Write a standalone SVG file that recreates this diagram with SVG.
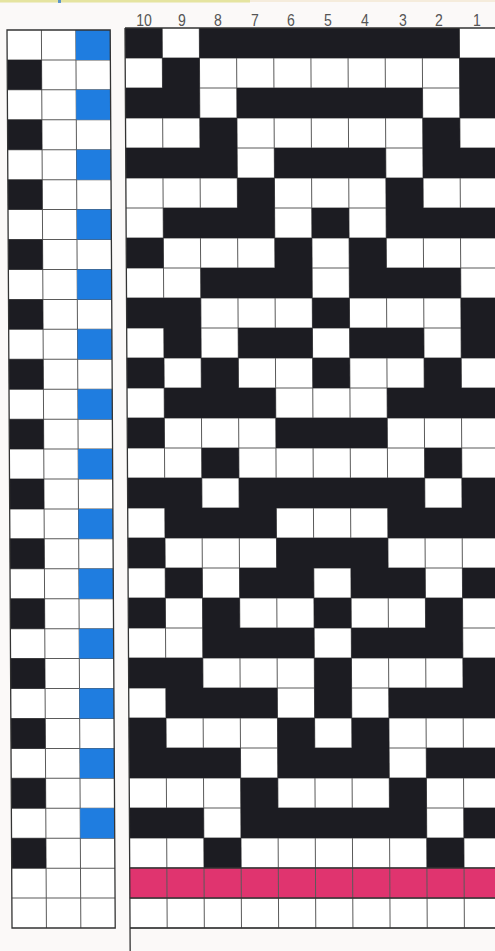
<svg xmlns="http://www.w3.org/2000/svg" width="495" height="951" viewBox="0 0 495 951">
<style>
.bg{fill:#fbf9f8}
.cell{fill:#ffffff}
.k{fill:#1c1c22}
.b{fill:#1f7de0}
.m{fill:#e0346f}
.gl{stroke:#5a5a5a;stroke-width:1;fill:none}
.edge{stroke:#333;stroke-width:1.3;fill:none}
.lbl{font-family:"Liberation Sans","DejaVu Sans",sans-serif;font-size:16px;fill:#555;text-anchor:middle}
</style>
<rect class="bg" x="0" y="0" width="495" height="951"/>
<rect x="0" y="0" width="250" height="2.5" fill="#dcdc7a" opacity="0.7"/>
<rect x="58" y="0" width="3" height="3" fill="#3a7fd0" opacity="0.8"/>
<rect x="250" y="0" width="245" height="2" fill="#f0e0c0" opacity="0.5"/>

<g id="labels" transform="scale(0.88,1)">
<text class="lbl" x="163.6" y="26.5">10</text>
<text class="lbl" x="206.8" y="26.5">9</text>
<text class="lbl" x="247.7" y="26.5">8</text>
<text class="lbl" x="289.8" y="26.5">7</text>
<text class="lbl" x="330.7" y="26.5">6</text>
<text class="lbl" x="372.7" y="26.5">5</text>
<text class="lbl" x="414.8" y="26.5">4</text>
<text class="lbl" x="458" y="26.5">3</text>
<text class="lbl" x="498.9" y="26.5">2</text>
<text class="lbl" x="542" y="26.5">1</text>
</g>

<g id="left-grid" transform="matrix(1,0,0.0056,1,7,30)">
<rect class="cell" x="0" y="0" width="103.2" height="898"/>
<g class="gl">
<path d="M34.4 0V898M68.8 0V898"/>
<path d="M0 29.93H103.2M0 59.87H103.2M0 89.8H103.2M0 119.73H103.2M0 149.67H103.2M0 179.6H103.2M0 209.53H103.2M0 239.47H103.2M0 269.4H103.2M0 299.33H103.2M0 329.27H103.2M0 359.2H103.2M0 389.13H103.2M0 419.07H103.2M0 449H103.2M0 478.93H103.2M0 508.87H103.2M0 538.8H103.2M0 568.73H103.2M0 598.67H103.2M0 628.6H103.2M0 658.53H103.2M0 688.47H103.2M0 718.4H103.2M0 748.33H103.2M0 778.27H103.2M0 808.2H103.2M0 838.13H103.2M0 868.07H103.2"/>
</g>
<g class="k">
<rect x="0" y="29.93" width="34.4" height="29.93"/>
<rect x="0" y="89.8" width="34.4" height="29.93"/>
<rect x="0" y="149.67" width="34.4" height="29.93"/>
<rect x="0" y="209.53" width="34.4" height="29.93"/>
<rect x="0" y="269.4" width="34.4" height="29.93"/>
<rect x="0" y="329.27" width="34.4" height="29.93"/>
<rect x="0" y="389.13" width="34.4" height="29.93"/>
<rect x="0" y="449" width="34.4" height="29.93"/>
<rect x="0" y="508.87" width="34.4" height="29.93"/>
<rect x="0" y="568.73" width="34.4" height="29.93"/>
<rect x="0" y="628.6" width="34.4" height="29.93"/>
<rect x="0" y="688.47" width="34.4" height="29.93"/>
<rect x="0" y="748.33" width="34.4" height="29.93"/>
<rect x="0" y="808.2" width="34.4" height="29.93"/>
</g>
<g class="b">
<rect x="68.8" y="0" width="34.4" height="29.93"/>
<rect x="68.8" y="59.87" width="34.4" height="29.93"/>
<rect x="68.8" y="119.73" width="34.4" height="29.93"/>
<rect x="68.8" y="179.6" width="34.4" height="29.93"/>
<rect x="68.8" y="239.47" width="34.4" height="29.93"/>
<rect x="68.8" y="299.33" width="34.4" height="29.93"/>
<rect x="68.8" y="359.2" width="34.4" height="29.93"/>
<rect x="68.8" y="419.07" width="34.4" height="29.93"/>
<rect x="68.8" y="478.93" width="34.4" height="29.93"/>
<rect x="68.8" y="538.8" width="34.4" height="29.93"/>
<rect x="68.8" y="598.67" width="34.4" height="29.93"/>
<rect x="68.8" y="658.53" width="34.4" height="29.93"/>
<rect x="68.8" y="718.4" width="34.4" height="29.93"/>
<rect x="68.8" y="778.27" width="34.4" height="29.93"/>
</g>
<rect class="edge" x="0" y="0" width="103.2" height="898"/>
</g>

<g id="right-grid" transform="matrix(1,0,0.0056,1,125,28)">
<rect class="cell" x="0" y="0" width="372" height="900"/>
<g class="gl">
<path d="M37.15 0V900M74.3 0V900M111.45 0V900M148.6 0V900M185.75 0V900M222.9 0V900M260.05 0V900M297.2 0V900M334.35 0V900"/>
<path d="M0 30H372M0 60H372M0 90H372M0 120H372M0 150H372M0 180H372M0 210H372M0 240H372M0 270H372M0 300H372M0 330H372M0 360H372M0 390H372M0 420H372M0 450H372M0 480H372M0 510H372M0 540H372M0 570H372M0 600H372M0 630H372M0 660H372M0 690H372M0 720H372M0 750H372M0 780H372M0 810H372M0 840H372M0 870H372M0 900H372"/>
</g>
<g class="k">
<rect x="0" y="0" width="37.15" height="30"/><rect x="74.3" y="0" width="260.05" height="30"/>
<rect x="37.15" y="30" width="37.15" height="30"/><rect x="334.35" y="30" width="37.65" height="30"/>
<rect x="0" y="60" width="74.3" height="30"/><rect x="111.45" y="60" width="185.75" height="30"/><rect x="334.35" y="60" width="37.65" height="30"/>
<rect x="74.3" y="90" width="37.15" height="30"/><rect x="297.2" y="90" width="37.15" height="30"/>
<rect x="0" y="120" width="111.45" height="30"/><rect x="148.6" y="120" width="111.45" height="30"/><rect x="297.2" y="120" width="74.8" height="30"/>
<rect x="111.45" y="150" width="37.15" height="30"/><rect x="260.05" y="150" width="37.15" height="30"/>
<rect x="37.15" y="180" width="111.45" height="30"/><rect x="185.75" y="180" width="37.15" height="30"/><rect x="260.05" y="180" width="111.95" height="30"/>
<rect x="0" y="210" width="37.15" height="30"/><rect x="148.6" y="210" width="37.15" height="30"/><rect x="222.9" y="210" width="37.15" height="30"/>
<rect x="74.3" y="240" width="111.45" height="30"/><rect x="222.9" y="240" width="111.45" height="30"/>
<rect x="0" y="270" width="74.3" height="30"/><rect x="185.75" y="270" width="37.15" height="30"/><rect x="334.35" y="270" width="37.65" height="30"/>
<rect x="37.15" y="300" width="37.15" height="30"/><rect x="111.45" y="300" width="74.3" height="30"/><rect x="222.9" y="300" width="74.3" height="30"/><rect x="334.35" y="300" width="37.65" height="30"/>
<rect x="0" y="330" width="37.15" height="30"/><rect x="74.3" y="330" width="37.15" height="30"/><rect x="185.75" y="330" width="37.15" height="30"/><rect x="297.2" y="330" width="37.15" height="30"/>
<rect x="37.15" y="360" width="111.45" height="30"/><rect x="260.05" y="360" width="111.95" height="30"/>
<rect x="0" y="390" width="37.15" height="30"/><rect x="148.6" y="390" width="111.45" height="30"/>
<rect x="74.3" y="420" width="37.15" height="30"/><rect x="297.2" y="420" width="37.15" height="30"/>
<rect x="0" y="450" width="74.3" height="30"/><rect x="111.45" y="450" width="185.75" height="30"/><rect x="334.35" y="450" width="37.65" height="30"/>
<rect x="37.15" y="480" width="111.45" height="30"/><rect x="260.05" y="480" width="111.95" height="30"/>
<rect x="0" y="510" width="37.15" height="30"/><rect x="148.6" y="510" width="111.45" height="30"/>
<rect x="37.15" y="540" width="37.15" height="30"/><rect x="111.45" y="540" width="74.3" height="30"/><rect x="222.9" y="540" width="74.3" height="30"/><rect x="334.35" y="540" width="37.65" height="30"/>
<rect x="0" y="570" width="37.15" height="30"/><rect x="74.3" y="570" width="37.15" height="30"/><rect x="185.75" y="570" width="37.15" height="30"/><rect x="297.2" y="570" width="37.15" height="30"/>
<rect x="74.3" y="600" width="111.45" height="30"/><rect x="222.9" y="600" width="111.45" height="30"/>
<rect x="0" y="630" width="74.3" height="30"/><rect x="185.75" y="630" width="37.15" height="30"/><rect x="334.35" y="630" width="37.65" height="30"/>
<rect x="37.15" y="660" width="111.45" height="30"/><rect x="185.75" y="660" width="37.15" height="30"/><rect x="260.05" y="660" width="111.95" height="30"/>
<rect x="0" y="690" width="37.15" height="30"/><rect x="148.6" y="690" width="37.15" height="30"/><rect x="222.9" y="690" width="37.15" height="30"/>
<rect x="0" y="720" width="111.45" height="30"/><rect x="148.6" y="720" width="111.45" height="30"/><rect x="297.2" y="720" width="74.8" height="30"/>
<rect x="111.45" y="750" width="37.15" height="30"/><rect x="260.05" y="750" width="37.15" height="30"/>
<rect x="0" y="780" width="74.3" height="30"/><rect x="111.45" y="780" width="185.75" height="30"/><rect x="334.35" y="780" width="37.65" height="30"/>
<rect x="74.3" y="810" width="37.15" height="30"/><rect x="297.2" y="810" width="37.15" height="30"/>
</g>
<rect class="m" x="0" y="840" width="372" height="30"/>
<path class="gl" d="M37.15 840V870M74.3 840V870M111.45 840V870M148.6 840V870M185.75 840V870M222.9 840V870M260.05 840V870M297.2 840V870M334.35 840V870"/>
<path class="edge" d="M0 840H372M0 870H372M0 900H372"/>
<path class="edge" d="M0 0V923M0 0H372"/>
</g>
</svg>
